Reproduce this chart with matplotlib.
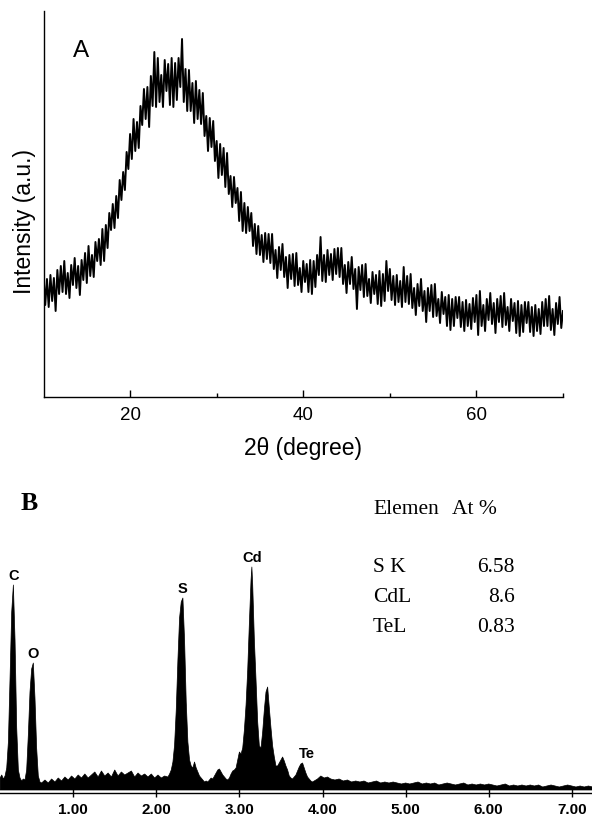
import numpy as np
import matplotlib
matplotlib.use("Agg")
import matplotlib.pyplot as plt

plt.rcParams['font.family'] = ['Liberation Sans', 'DejaVu Sans']

# ---- panel A: XRD pattern, 2theta 10..70 step 0.2 (arbitrary intensity)
xrd_counts = [
    122, 92, 118, 90, 122, 96, 119, 86, 127, 103,
    131, 105, 136, 103, 124, 99, 132, 112, 139, 109,
    131, 102, 137, 117, 144, 114, 151, 121, 142, 120,
    155, 136, 158, 132, 168, 136, 172, 149, 184, 167,
    193, 169, 201, 179, 217, 197, 225, 207, 245, 228,
    263, 238, 278, 246, 275, 249, 291, 272, 308, 278,
    310, 270, 321, 291, 345, 290, 339, 295, 322, 290,
    337, 306, 333, 292, 339, 290, 334, 297, 339, 310,
    358, 295, 328, 286, 327, 286, 314, 274, 316, 278,
    307, 273, 304, 261, 281, 246, 279, 250, 276, 236,
    256, 219, 253, 222, 249, 210, 244, 203, 221, 190,
    220, 194, 209, 176, 205, 166, 194, 164, 190, 166,
    184, 151, 173, 143, 171, 142, 162, 135, 164, 138,
    163, 134, 163, 128, 147, 119, 150, 127, 153, 120,
    140, 109, 142, 118, 143, 111, 144, 112, 129, 105,
    136, 115, 133, 105, 137, 103, 136, 110, 142, 122,
    160, 116, 142, 115, 147, 122, 143, 117, 148, 123,
    149, 120, 149, 113, 132, 104, 135, 113, 140, 108,
    128, 88, 130, 107, 132, 100, 133, 101, 118, 94,
    125, 103, 122, 93, 126, 91, 123, 96, 136, 106,
    128, 97, 121, 92, 122, 95, 116, 90, 130, 95,
    121, 93, 123, 89, 109, 82, 113, 91, 118, 86,
    106, 75, 109, 86, 112, 80, 113, 81, 98, 74,
    105, 83, 100, 71, 102, 67, 98, 71, 100, 79,
    100, 70, 95, 66, 97, 71, 93, 68, 99, 75,
    102, 62, 106, 71, 92, 66, 98, 77, 104, 73,
    94, 64, 98, 75, 101, 70, 104, 72, 90, 66,
    98, 76, 94, 64, 96, 61, 92, 65, 95, 74,
    95, 65, 90, 61, 92, 66, 88, 63, 95, 71,
    98, 71, 101, 67, 88, 62, 94, 73, 100, 69,
    86,
]
two_theta = np.linspace(10, 70, len(xrd_counts))

# ---- panel B: EDS spectrum (keV, counts)
eds_kev = [
    0.12, 0.14, 0.16, 0.18, 0.20, 0.22, 0.24, 0.26, 0.28, 0.30, 0.32, 0.34,
    0.36, 0.38, 0.40, 0.42, 0.44, 0.46, 0.48, 0.50, 0.52, 0.54, 0.56, 0.58, 0.60,
    0.62, 0.66, 0.70, 0.74, 0.78, 0.82, 0.86, 0.90, 0.94, 0.98, 1.02, 1.06,
    1.10, 1.14, 1.18, 1.22, 1.26, 1.30, 1.34, 1.38, 1.42, 1.46, 1.50, 1.54,
    1.58, 1.62, 1.66, 1.70, 1.74, 1.78, 1.82, 1.86, 1.90, 1.94, 1.98, 2.02,
    2.06, 2.10, 2.14,
    2.16, 2.18, 2.20, 2.22, 2.24, 2.26, 2.28, 2.30, 2.32, 2.34, 2.36, 2.38,
    2.40, 2.42, 2.44, 2.46, 2.48, 2.50, 2.52, 2.54, 2.56, 2.58, 2.60,
    2.62, 2.64, 2.66, 2.68, 2.70, 2.72, 2.74, 2.76, 2.78, 2.80, 2.82, 2.84,
    2.86, 2.88, 2.90, 2.92, 2.94, 2.96, 2.98, 3.00,
    3.02, 3.04, 3.06, 3.08, 3.10, 3.12, 3.14, 3.15, 3.16, 3.18, 3.20, 3.22,
    3.24, 3.26, 3.28, 3.30, 3.32, 3.34, 3.36, 3.38, 3.40, 3.42, 3.44, 3.46,
    3.48, 3.50, 3.52, 3.54, 3.56, 3.58, 3.60, 3.62, 3.64, 3.66, 3.68, 3.70,
    3.72, 3.74, 3.76, 3.78, 3.80, 3.82, 3.84, 3.86, 3.88, 3.90,
    3.94, 3.98, 4.02, 4.06, 4.10, 4.15, 4.20, 4.25, 4.30, 4.35, 4.40, 4.45,
    4.50, 4.55, 4.60, 4.65, 4.70, 4.75, 4.80, 4.85, 4.90, 4.95, 5.00, 5.05,
    5.10, 5.15, 5.20, 5.25, 5.30, 5.35, 5.40, 5.45, 5.50, 5.55, 5.60, 5.65,
    5.70, 5.75, 5.80, 5.85, 5.90, 5.95, 6.00, 6.05, 6.10, 6.15, 6.20, 6.25,
    6.30, 6.35, 6.40, 6.45, 6.50, 6.55, 6.60, 6.65, 6.70, 6.75, 6.80, 6.85,
    6.90, 6.95, 7.00, 7.05, 7.10, 7.15, 7.20, 7.25,
]
eds_counts = [
    12, 15, 11, 14, 22, 48, 112, 178, 205, 150, 62, 20,
    12, 9, 11, 10, 20, 55, 98, 121, 127, 92, 42, 14, 8,
    7, 10, 7, 11, 8, 12, 9, 13, 10, 14, 11, 15,
    12, 16, 12, 15, 18, 13, 19, 14, 17, 13, 20, 14,
    18, 15, 17, 19, 13, 17, 14, 16, 13, 16, 12, 15,
    12, 14, 13,
    16, 20, 28, 45, 80, 130, 172, 188, 192, 150, 88, 48,
    30, 24, 22, 28, 22, 18, 14, 12, 10, 8, 9,
    8, 10, 12, 11, 14, 17, 20, 21, 18, 15, 13, 11,
    10, 12, 16, 19, 20, 22, 30, 38,
    36, 42, 60, 85, 120, 167, 210, 223, 205, 150, 110, 68,
    44, 42, 58, 80, 98, 103, 82, 62, 44, 33, 24, 24,
    27, 30, 33, 29, 24, 20, 14, 12, 11, 13, 15, 19,
    23, 26, 27, 22, 17, 13, 11, 9, 8, 9,
    11, 14, 12, 13, 11, 10, 11, 9, 10, 8, 9, 8,
    9, 7, 8, 9, 7, 8, 7, 8, 7, 6, 7, 6,
    7, 8, 6, 7, 6, 7, 5, 6, 7, 6, 5, 6,
    7, 5, 6, 5, 6, 5, 6, 5, 4, 5, 6, 4,
    5, 4, 5, 4, 5, 4, 5, 3, 4, 5, 4, 3,
    4, 5, 4, 3, 4, 3, 4, 3,
]
peak_names = ["C", "O", "S", "Cd", "Te"]
peak_kev = [0.28, 0.52, 2.32, 3.15, 3.76]
kev_ticks = [1, 2, 3, 4, 5, 6, 7]

elements = ["S K", "CdL", "TeL"]
at_percent = [6.58, 8.6, 0.83]

W, H = 592, 817
fig = plt.figure(figsize=(W / 100, H / 100), dpi=100)


def fx(px):
    return px / W


def fy(py):
    return 1 - py / H


# ---------------- panel A
ax1 = fig.add_axes([fx(43.5), fy(397), fx(563) - fx(43.5), fy(11) - fy(397)])
ax1.plot(two_theta, xrd_counts, color='black', lw=1.4)
ax1.set_xlim(10, 70)
ax1.set_ylim(0, 386)
ax1.spines['top'].set_visible(False)
ax1.spines['right'].set_visible(False)
for s in ('left', 'bottom'):
    ax1.spines[s].set_linewidth(1.0)
ax1.set_yticks([])
ax1.set_xticks([20, 40, 60])
ax1.set_xticks([30, 50, 70], minor=True)
ax1.tick_params(axis='x', which='major', direction='in', length=5, width=1,
                labelsize=13.5, pad=7.5)
ax1.tick_params(axis='x', which='minor', direction='in', length=3, width=1)
ax1.set_xlabel("2\u03b8 (degree)", fontsize=16.5)
ax1.xaxis.set_label_coords(0.5, -0.104)
ax1.set_ylabel("Intensity (a.u.)", fontsize=16.5)
ax1.yaxis.set_label_coords(-0.015, 0.455)
ax1.text(0.072, 0.896, "A", transform=ax1.transAxes, fontsize=17.5,
         ha='center', va='center')

# ---------------- panel B
narrow = ['Liberation Sans Narrow', 'Liberation Sans']
ax2 = fig.add_axes([0, fy(793), 1, fy(540) - fy(793)])
ax2.fill_between(eds_kev, eds_counts, 0, color='black', lw=0.5)
ax2.set_xlim(0.119, 7.243)
ax2.set_ylim(-3, 250)
for s in ('top', 'right', 'left'):
    ax2.spines[s].set_visible(False)
ax2.spines['bottom'].set_linewidth(1.0)
ax2.set_yticks([])
ax2.set_xticks(kev_ticks)
ax2.set_xticklabels(["%.2f" % k for k in kev_ticks], family=narrow,
                    fontweight='bold', fontsize=11)
ax2.tick_params(axis='x', direction='inout', length=6, width=1, pad=4.5)
for name, k in zip(peak_names, peak_kev):
    h = np.interp(k, eds_kev, eds_counts)
    dx = 3 if name == "Te" else 0
    ax2.annotate(name, xy=(k, h), xytext=(dx, 1.5), textcoords='offset points',
                 ha='center', va='bottom', family=narrow, fontweight='bold',
                 fontsize=10.5)

fig.text(fx(29), fy(504), "B", family='Liberation Serif', fontweight='bold',
         fontsize=18.5, ha='center', va='center')

serif = 'Liberation Serif'
fig.text(fx(373), fy(510), "Elemen", family=serif, fontsize=15.5, va='center')
fig.text(fx(452), fy(510), "At %", family=serif, fontsize=15.5, va='center')
row_y = [568, 598, 627]
for el, val, y in zip(elements, at_percent, row_y):
    fig.text(fx(373), fy(y), el, family=serif, fontsize=15.5, va='center')
    fig.text(fx(515), fy(y), str(val), family=serif, fontsize=15.5,
             va='center', ha='right')

fig.savefig("out.png", dpi=100)
